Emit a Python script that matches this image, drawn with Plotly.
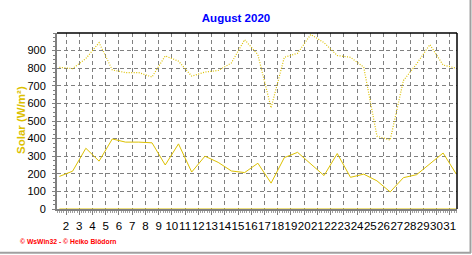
import plotly.graph_objects as go

days = list(range(1, 32))
solar_avg = [185, 215, 345, 272, 398, 380, 380, 376, 250, 370, 210, 300, 265, 216, 207,
             260, 147, 292, 322, 256, 190, 315, 180, 198, 160, 97, 178, 195, 255, 318, 198]
solar_max = [805, 798, 855, 945, 790, 775, 775, 750, 870, 840, 755, 778, 787, 830, 962,
             877, 575, 862, 885, 992, 945, 872, 862, 806, 414, 392, 730, 825, 934, 818, 800]
solar_zero = [0] * 31
x_labels = [str(d) for d in range(2, 32)]
y_ticks = list(range(0, 1000, 100))

title_text = "August 2020"
y_title = "Solar (W/m²)"
footer_text = "© WsWin32 - © Heiko Blödorn"

GOLD = "#DCC000"
GRID = "#808080"

fig = go.Figure()
fig.add_trace(go.Scatter(x=days, y=solar_zero, mode="lines",
                         line=dict(color=GOLD, width=1), hoverinfo="skip"))
fig.add_trace(go.Scatter(x=days, y=solar_max, mode="lines",
                         line=dict(color=GOLD, width=1.2, dash="1px,1.5px")))
fig.add_trace(go.Scatter(x=days, y=solar_avg, mode="lines",
                         line=dict(color=GOLD, width=1)))

tickvals = [d - 0.5 for d in range(2, 32)]

fig.update_layout(
    width=472, height=255,
    margin=dict(l=57, r=15, t=33, b=46),
    paper_bgcolor="white", plot_bgcolor="white",
    showlegend=False,
    font=dict(family="Liberation Sans, Arial, sans-serif", color="black", size=11.5),
    title=dict(text="<b>" + title_text + "</b>", x=0.5, xref="container", xanchor="center",
               y=1 - 18 / 255, yanchor="middle",
               font=dict(color="#0000FF", size=11.5, family="Liberation Sans, Arial, sans-serif")),
)

fig.update_xaxes(
    range=[0.82, 31.05], tickmode="array", tickvals=tickvals, ticktext=x_labels,
    tickangle=0,
    showgrid=True, gridcolor=GRID, gridwidth=1, griddash="4px,3px",
    showline=True, linecolor=GRID, linewidth=2,
    ticks="outside", ticklen=4, tickcolor=GRID, tickwidth=1,
    minor=dict(tick0=1.5, dtick=1 / 6, ticks="outside", ticklen=2, tickcolor="#A0A0A0", showgrid=False),
    zeroline=False, tickfont=dict(size=11.5), ticklabelstandoff=1,
)
fig.update_yaxes(
    range=[0, 1000], tickmode="array", tickvals=y_ticks,
    showgrid=True, gridcolor=GRID, gridwidth=1, griddash="4px,3px",
    showline=True, linecolor=GRID, linewidth=2,
    ticks="outside", ticklen=3, tickcolor=GRID,
    minor=dict(dtick=25, ticks="outside", ticklen=2, tickcolor=GRID, showgrid=False),
    zeroline=False, tickfont=dict(size=11), ticklabelstandoff=4,
)

# y-axis title
fig.add_annotation(text="<b>" + y_title + "</b>", xref="paper", yref="paper",
                   x=(21 - 57) / 400, y=(209 - 120) / 176, xanchor="center", yanchor="middle",
                   textangle=-90, showarrow=False,
                   font=dict(color=GOLD, size=11.5, family="Liberation Sans, Arial, sans-serif"))

# top and right black borders
fig.add_shape(type="line", xref="paper", yref="paper", x0=0, x1=1, y0=1, y1=1,
              line=dict(color="black", width=1.5))
fig.add_shape(type="line", xref="paper", yref="paper", x0=1, x1=1, y0=0, y1=1,
              line=dict(color="black", width=1.5))
# outer gray frame (right and bottom)
fig.add_shape(type="line", xref="paper", yref="paper", x0=(470.5 - 57) / 400, x1=(470.5 - 57) / 400,
              y0=(209 - 253) / 176, y1=(209 - 0) / 176, line=dict(color="#A0A0A0", width=2))
fig.add_shape(type="line", xref="paper", yref="paper", x0=(0 - 57) / 400, x1=(471 - 57) / 400,
              y0=(209 - 252.7) / 176, y1=(209 - 252.7) / 176, line=dict(color="#A0A0A0", width=2))

fig.add_annotation(text="<b>" + footer_text + "</b>", xref="paper", yref="paper",
                   x=(18 - 57) / 400, y=(209 - 241) / 176, xanchor="left", yanchor="middle",
                   showarrow=False, font=dict(color="#FF0000", size=6.8,
                                              family="Liberation Sans, Arial, sans-serif"))

fig.write_html("out.html")
